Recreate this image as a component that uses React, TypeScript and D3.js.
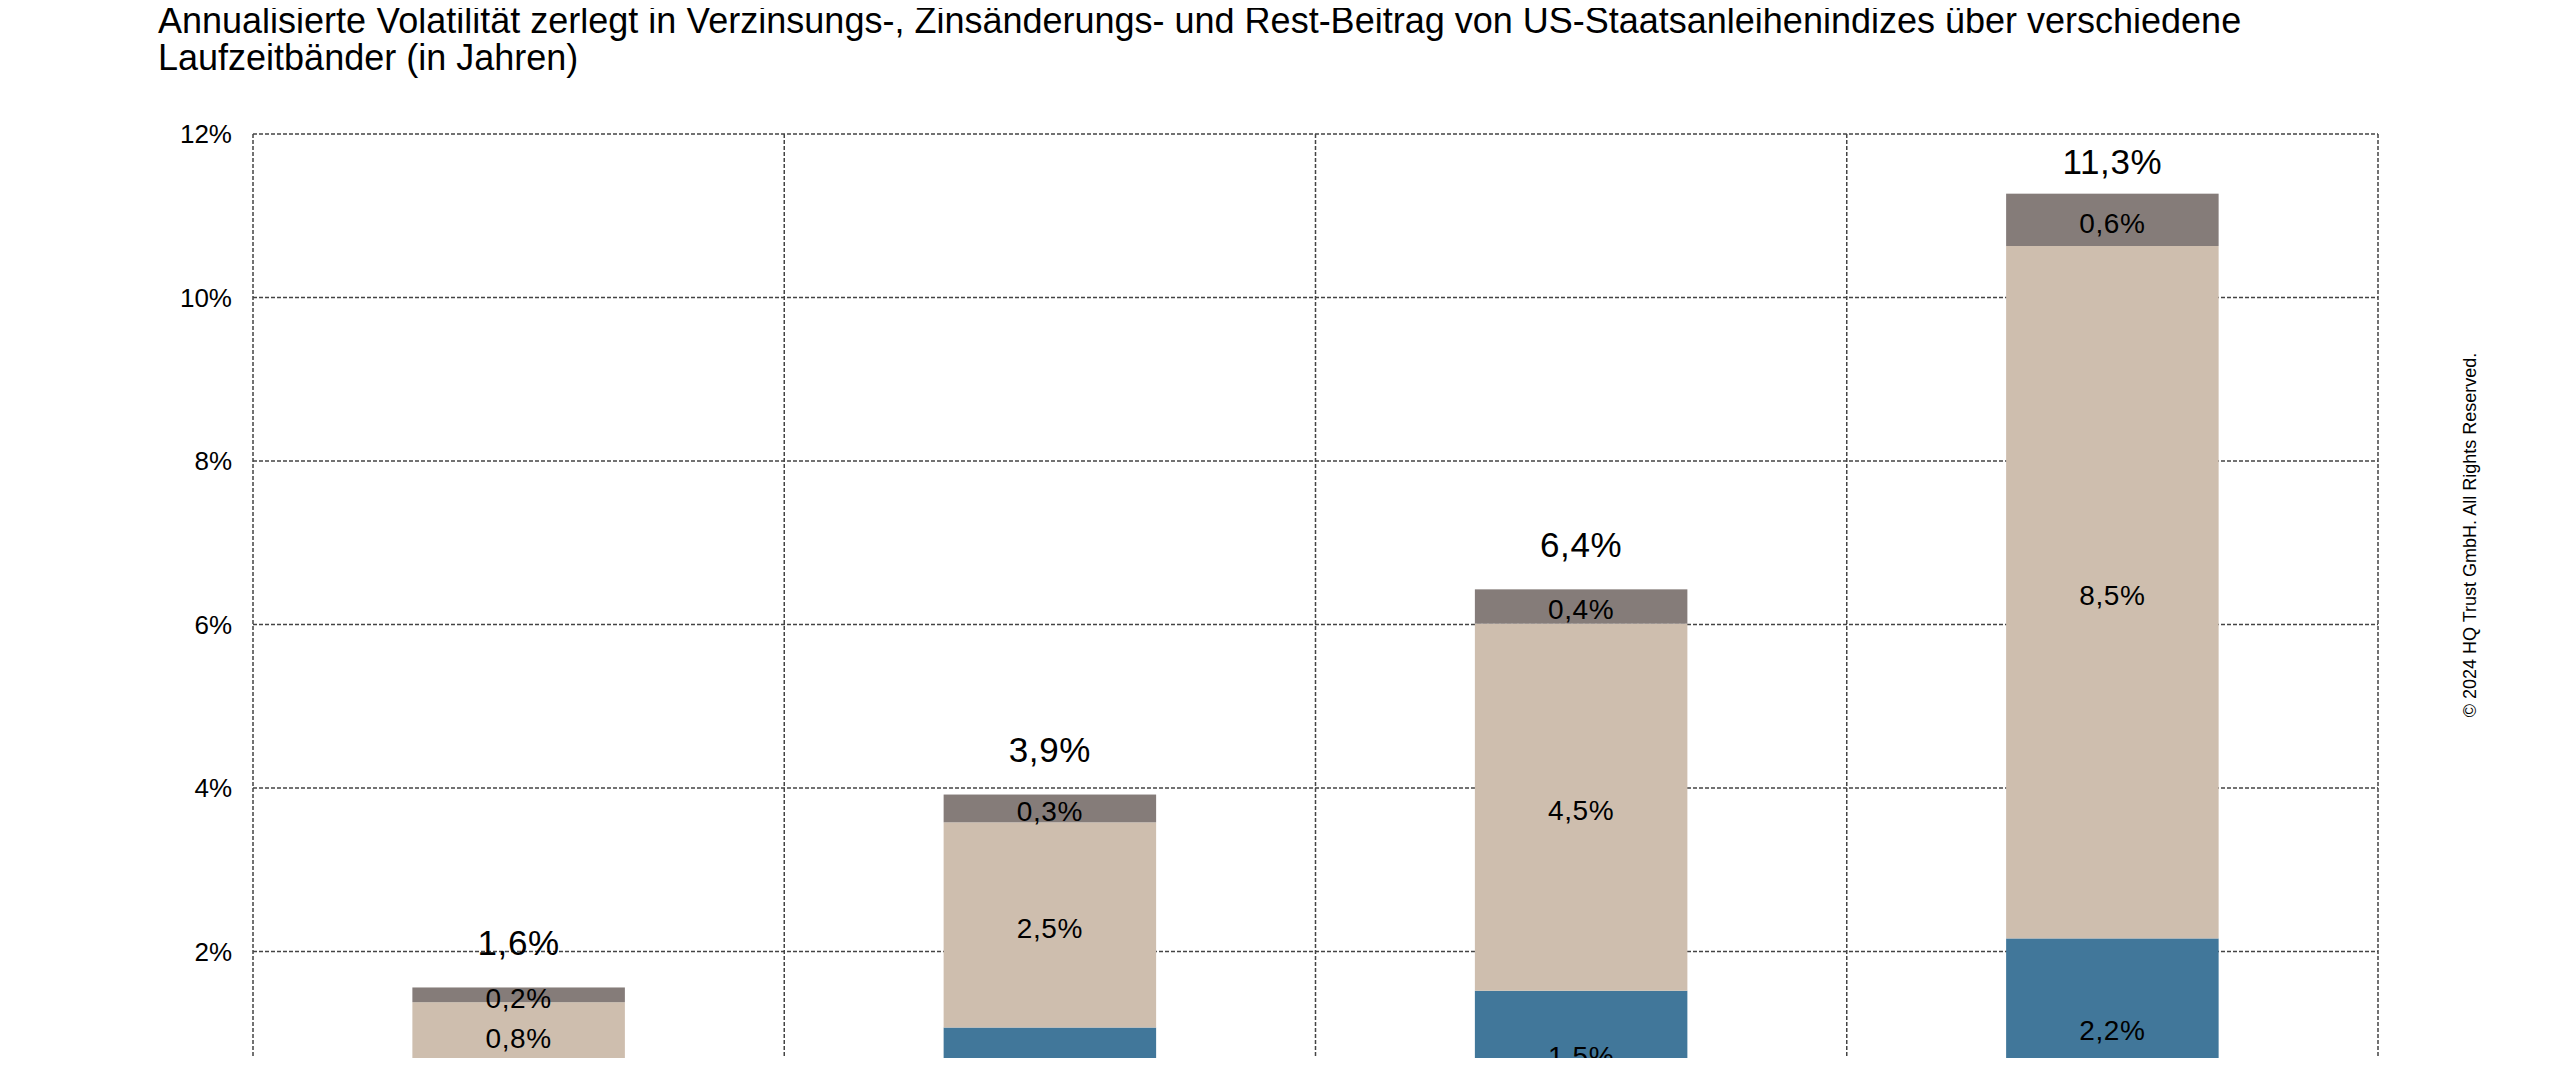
import React, { useEffect, useRef } from "react";
import * as d3 from "d3";

// Laufzeitbänder (in Jahren)
const categories = ["1-3", "3-7", "7-10", "10+"];
const seriesNames = ["Verzinsung", "Zinsänderung", "Rest"];
// Beiträge zur annualisierten Volatilität in %
const verzinsung = [0.58, 1.07, 1.52, 2.16];
const zinsaenderung = [0.8, 2.51, 4.49, 8.47];
const rest = [0.18, 0.34, 0.42, 0.64];
const yTicks = [2, 4, 6, 8, 10, 12];

const colors = ["#41779a", "#cebeae", "#857c79"];

const title = [
  "Annualisierte Volatilität zerlegt in Verzinsungs-, Zinsänderungs- und Rest-Beitrag von US-Staatsanleihenindizes über verschiedene",
  "Laufzeitbänder (in Jahren)",
];

const de = d3.formatLocale({
  decimal: ",",
  thousands: ".",
  grouping: [3],
  currency: ["", " €"],
});
const fmt1 = (v: number) => de.format(".1f")(v) + "%";
const fmt0 = (v: number) => de.format("d")(v) + "%";

const App = () => {
  const ref = useRef<SVGSVGElement>(null);

  useEffect(() => {
    const width = 2544;
    const height = 1050;
    const left = 245;
    const right = 2370;
    const top = 126;
    const bottom = 1107;
    const font = "'Liberation Sans', Arial, Helvetica, sans-serif";

    const svg = d3.select(ref.current);
    svg.selectAll("*").remove();
    svg.attr("width", width).attr("height", height);

    // title
    svg
      .append("g")
      .selectAll("text")
      .data(title)
      .enter()
      .append("text")
      .attr("x", 150)
      .attr("y", (d, i) => 25 + i * 37)
      .style("font-family", font)
      .style("font-size", "36px")
      .style("fill", "#000")
      .text((d) => d);

    const x = d3
      .scaleBand()
      .domain(categories)
      .range([left, right])
      .paddingInner(0.6)
      .paddingOuter(0.3);

    const y = d3.scaleLinear().domain([0, 12]).range([bottom, top]);

    // grid
    const grid = svg.append("g").attr("class", "grid");
    grid
      .selectAll(".hline")
      .data(yTicks)
      .enter()
      .append("line")
      .attr("x1", left)
      .attr("x2", right)
      .attr("y1", (d) => y(d))
      .attr("y2", (d) => y(d))
      .style("stroke", "#444")
      .style("stroke-width", "1.5px")
      .style("stroke-dasharray", "4,2");

    const step = x.step();
    const vlines = [left, ...categories.map((c) => (x(c) as number) - (step - x.bandwidth()) / 2 + step)];
    grid
      .selectAll(".vline")
      .data(vlines)
      .enter()
      .append("line")
      .attr("x1", (d) => d)
      .attr("x2", (d) => d)
      .attr("y1", top)
      .attr("y2", bottom)
      .style("stroke", "#444")
      .style("stroke-width", "1.5px")
      .style("stroke-dasharray", "4,2");

    // y axis labels
    svg
      .append("g")
      .selectAll("text")
      .data([0, ...yTicks])
      .enter()
      .append("text")
      .attr("x", left - 21)
      .attr("y", (d) => y(d))
      .attr("dy", "0.35em")
      .attr("text-anchor", "end")
      .style("font-family", font)
      .style("font-size", "26px")
      .text((d) => fmt0(d));

    // stacked bars
    const table = categories.map((c, i) => ({
      category: c,
      Verzinsung: verzinsung[i],
      Zinsänderung: zinsaenderung[i],
      Rest: rest[i],
    }));
    const stacked = d3.stack<any>().keys(seriesNames)(table);

    const layers = svg
      .append("g")
      .selectAll("g")
      .data(stacked)
      .enter()
      .append("g")
      .style("fill", (d, i) => colors[i]);

    layers
      .selectAll("rect")
      .data((d) => d)
      .enter()
      .append("rect")
      .attr("x", (d: any) => x(d.data.category) as number)
      .attr("width", x.bandwidth())
      .attr("y", (d) => y(d[1]))
      .attr("height", (d) => y(d[0]) - y(d[1]));

    // segment labels
    const labels = svg.append("g");
    stacked.forEach((layer) => {
      labels
        .append("g")
        .selectAll("text")
        .data(layer)
        .enter()
        .append("text")
        .attr("x", (d: any) => (x(d.data.category) as number) + x.bandwidth() / 2)
        .attr("y", (d) => (y(d[0]) + y(d[1])) / 2 + 3)
        .attr("dy", "0.35em")
        .attr("text-anchor", "middle")
        .style("font-family", font)
        .style("font-size", "28px")
        .style("letter-spacing", "0.6px")
        .style("fill", "#000")
        .text((d) => fmt1(d[1] - d[0]));
    });

    // totals
    const totals = table.map((d) => d.Verzinsung + d.Zinsänderung + d.Rest);
    svg
      .append("g")
      .selectAll("text")
      .data(totals)
      .enter()
      .append("text")
      .attr("x", (d, i) => (x(categories[i]) as number) + x.bandwidth() / 2)
      .attr("y", (d) => Math.max(y(d) - 45, top + 28))
      .attr("dy", "0.35em")
      .attr("text-anchor", "middle")
      .style("font-family", font)
      .style("font-size", "35px")
      .style("letter-spacing", "0.6px")
      .style("fill", "#000")
      .text((d) => fmt1(d));

    // category labels (below the visible area)
    svg
      .append("g")
      .selectAll("text")
      .data(categories)
      .enter()
      .append("text")
      .attr("x", (d) => (x(d) as number) + x.bandwidth() / 2)
      .attr("y", bottom + 35)
      .attr("text-anchor", "middle")
      .style("font-family", font)
      .style("font-size", "26px")
      .text((d) => d);

    // copyright
    svg
      .append("text")
      .attr("transform", `translate(2462,${535 - 8}) rotate(-90)`)
      .attr("text-anchor", "middle")
      .attr("dy", "0.35em")
      .style("font-family", font)
      .style("font-size", "18px")
      .style("fill", "#000")
      .text("© 2024 HQ Trust GmbH. All Rights Reserved.");
  }, []);

  return <svg ref={ref} style={{ display: "block" }}></svg>;
};

export default App;
